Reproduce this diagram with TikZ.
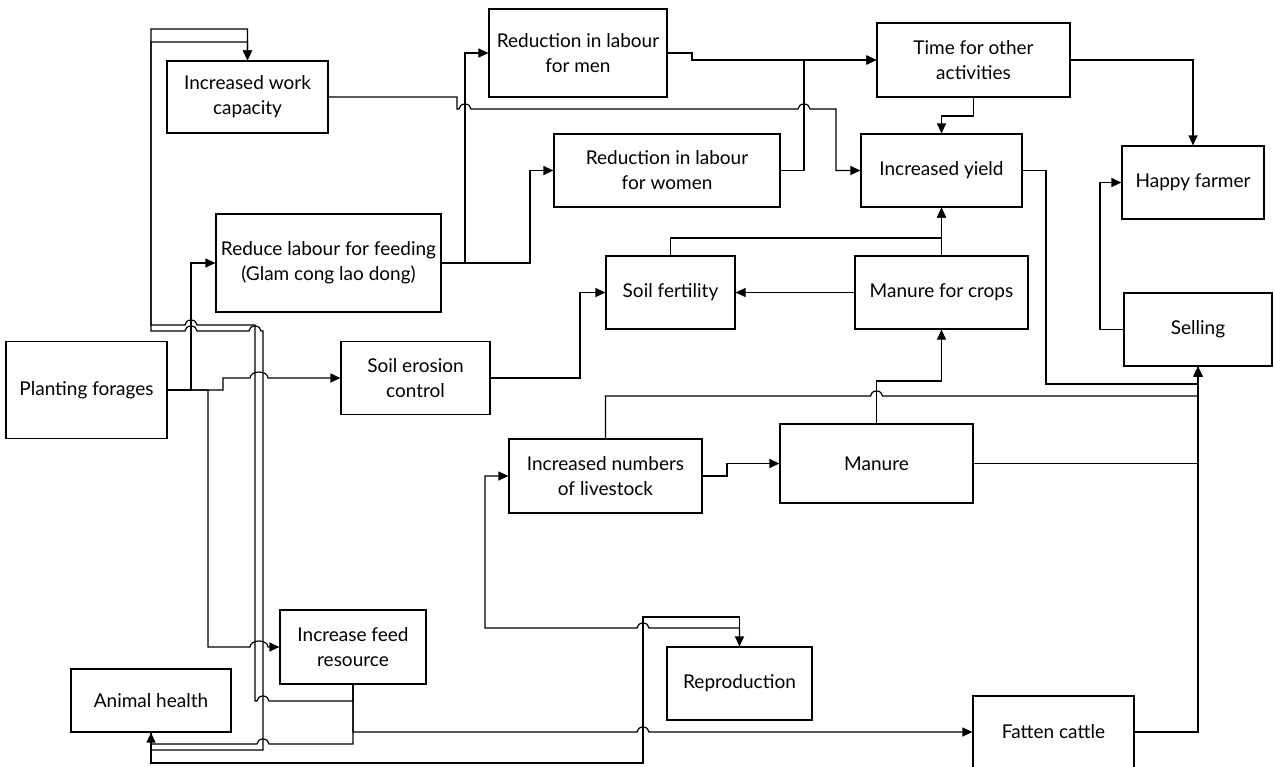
\documentclass[tikz,border=0pt]{standalone}
\usepackage{fontspec}
\setmainfont{Lato}
\usetikzlibrary{arrows.meta}

\begin{document}
\begin{tikzpicture}[x=1pt, y=-1pt,    % one unit is one pixel, y runs down
    box/.style={
        draw,
        line width=1.2pt,
        align=center,
        inner sep=2pt,
        font=\fontsize{19}{25}\selectfont
    },
    link/.style={line width=1.2pt, -{Triangle[length=10pt, width=9pt]}},
    hopr/.style={start angle=180, end angle=360, x radius=6, y radius=5},
    hopl/.style={start angle=0, end angle=-180, x radius=6, y radius=5},
    hopw/.style={start angle=180, end angle=360, x radius=9, y radius=6}
]
    \useasboundingbox (0,0) rectangle (1274,766);

    % 1. The left column
    \node [box, minimum width=161pt, minimum height=97pt] (Plant) at (86.5,390) {Planting forages};
    \node [box, minimum width=161pt, minimum height=72pt] (Work) at (247.5,97) {Increased work\\ capacity};
    \node [box, minimum width=225pt, minimum height=98pt] (Feed) at (328.5,263) {Reduce labour for feeding\\ (Glam cong lao dong)};
    \node [box, minimum width=149pt, minimum height=73pt] (Erosion) at (415.5,378) {Soil erosion\\ control};
    \node [box, minimum width=146pt, minimum height=74pt] (FeedRes) at (353,647) {Increase feed\\ resource};
    \node [box, minimum width=160pt, minimum height=63pt] (Health) at (151,700.5) {Animal health};

    % 2. The labour and yield part
    \node [box, minimum width=178pt, minimum height=88pt] (Men) at (578,53) {Reduction in labour\\ for men};
    \node [box, minimum width=226pt, minimum height=73pt] (Women) at (667,170.5) {Reduction in labour\\ for women};
    \node [box, minimum width=193pt, minimum height=74pt] (Time) at (973.5,60) {Time for other\\ activities};
    \node [box, minimum width=161pt, minimum height=73pt] (Yield) at (941.5,170.5) {Increased yield};
    \node [box, minimum width=142pt, minimum height=73pt] (Happy) at (1193,182.5) {Happy farmer};
    \node [box, minimum width=129pt, minimum height=73pt] (Fert) at (670.5,292.5) {Soil fertility};
    \node [box, minimum width=173pt, minimum height=73pt] (MCrops) at (941.5,292.5) {Manure for crops};
    \node [box, minimum width=148pt, minimum height=73pt] (Selling) at (1198,329.5) {Selling};

    % 3. The livestock part
    \node [box, minimum width=193pt, minimum height=74pt] (Livestock) at (605.5,476) {Increased numbers\\ of livestock};
    \node [box, minimum width=193pt, minimum height=79pt] (Manure) at (876.5,463.5) {Manure};
    \node [box, minimum width=145pt, minimum height=73pt] (Repro) at (739.5,683.5) {Reproduction};
    \node [box, minimum width=161pt, minimum height=72pt] (Fatten) at (1053.5,732) {Fatten cattle};

    % The Connections
    % from Planting forages
    \draw [link] (Plant.east) -- (191,390) |- (Feed.west);
    \draw [link] (Plant.east) -- (223,390) |- (250,378) arc[hopw] -- (Erosion.west);
    \draw [link] (Plant.east) -- (208,390) |- (250,647) arc[hopw] -- (FeedRes.west);

    % labour
    \draw [link] (Feed.east) -- (465,263) |- (Men.west);
    \draw [link] (Feed.east) -- (530,263) |- (Women.west);
    \draw [link] (Work.east) -- (457,97) -- (457,109) -- (459,109) arc[hopr] -- (798,109) arc[hopr] -- (836,109) |- (Yield.west);
    \draw [link] (Men.east) -- (692,53) |- (Time.west);
    \draw [link] (Women.east) -- (804,170.5) |- (Time.west);
    \draw [link] (Time.south) -- (973.5,116) -| (Yield.north);
    \draw [link] (Time.east) -| (Happy.north);

    % soil and manure
    \draw [link] (Fert.north) |- (941.5,238) -- (Yield.south);
    \draw [link] (MCrops.north) -- (Yield.south);
    \draw [link] (MCrops.west) -- (Fert.east);
    \draw [link] (Erosion.east) -- (580,378) |- (Fert.west);
    \draw [link] (Manure.north) |- (941.5,381) -- (MCrops.south);
    \draw [link] (Livestock.east) -- (727,476) |- (Manure.west);

    % to Selling and Happy farmer
    \draw [link] (Livestock.north) |- (870.5,396) arc[hopr] -- (1198,396) -- (Selling.south);
    \draw [link] (Manure.east) -| (Selling.south);
    \draw [link] (Yield.east) -- (1046,170.5) |- (1198,384) -- (Selling.south);
    \draw [link] (Fatten.east) -| (Selling.south);
    \draw [link] (Selling.west) -- (1100,329.5) |- (Happy.west);

    % from Increase feed resource
    \draw [link] (FeedRes.south) -- (353,732) -- (637,732) arc[hopr] -- (Fatten.west);
    \draw [link] (FeedRes.south) -- (353,744) -- (269,744) arc[hopl] -| (Health.south);
    \draw [link] (FeedRes.south) -- (353,701) -- (269,701) arc[hopl] -- (255,701) -- (255,325)
        -- (197,325) arc[hopl] -- (151,325) -- (151,29) -| (Work.north);

    % from Animal health and Reproduction
    \draw [link] (Health.south) -- (151,750) -- (263,750) -- (263,331) -- (261,331) arc[hopl]
        -- (197,331) arc[hopl] -- (151,331) -- (151,42) -| (Work.north);
    \draw [link] (Health.south) -- (151,763) -- (643,763) -- (643,617) -| (Repro.north);
    \draw [link] (Repro.north) |- (649,628) arc[hopl] -- (485,628) |- (Livestock.west);

\end{tikzpicture}
\end{document}
